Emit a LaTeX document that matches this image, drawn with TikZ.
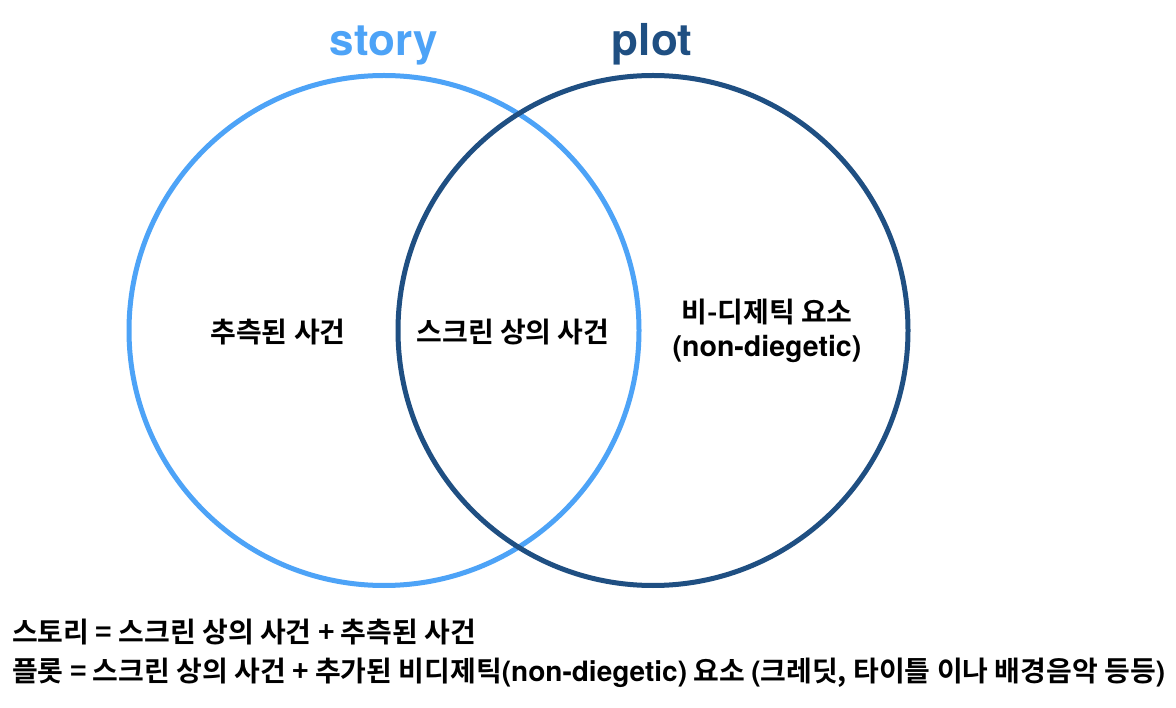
\documentclass[tikz,border=0pt]{standalone}
\usepackage{fontspec}
\setmainfont{TeX Gyre Heros}
\newfontfamily\kr{Noto Sans CJK KR}[BoldFont={* Bold}]
\newfontfamily\hv{TeX Gyre Heros}
\definecolor{storyblue}{HTML}{4DA3F7}
\definecolor{plotblue}{HTML}{1F4F82}
\begin{document}
\begin{tikzpicture}[x=1pt,y=-1pt,
  title/.style={font=\hv\bfseries\fontsize{44}{44}\selectfont, inner sep=0pt},
  lab/.style={font=\kr\bfseries\fontsize{28}{28}\selectfont, inner sep=0pt, text=black},
  foot/.style={font=\kr\bfseries\fontsize{28}{28}\selectfont, inner sep=0pt, anchor=west, text=black},
  ring/.style={line width=5pt}]
\useasboundingbox (0,0) rectangle (1176,708);
\fill[white] (0,0) rectangle (1176,708);
\draw[ring, storyblue] (384,330.5) circle[radius=255];
\draw[ring, plotblue] (653,330.5) circle[radius=255];
\node[title, text=storyblue, anchor=base] (story) at (384,56) {story};
\node[title, text=plotblue, anchor=base] (plot) at (652,56) {plot};
\node[lab] (inferred) at (278,332) {추측된 사건};
\node[lab] (screen) at (513,332) {스크린 상의 사건};
\node[lab] (nondie) at (767,312) {비-디제틱 요소};
\node[lab, font=\hv\bfseries\fontsize{28.5}{28.5}\selectfont] (nondien) at (767,349) {(non-diegetic)};
\node[foot] (f1) at (12,632) {스토리 = 스크린 상의 사건 + 추측된 사건};
\node[foot] (f2) at (12,673) {플롯 = 스크린 상의 사건 + 추가된 비디제틱{\hv\bfseries(non-diegetic)} 요소 {\hv\bfseries(}크레딧, 타이틀 이나 배경음악 등등{\hv\bfseries)}};
\end{tikzpicture}
\end{document}
